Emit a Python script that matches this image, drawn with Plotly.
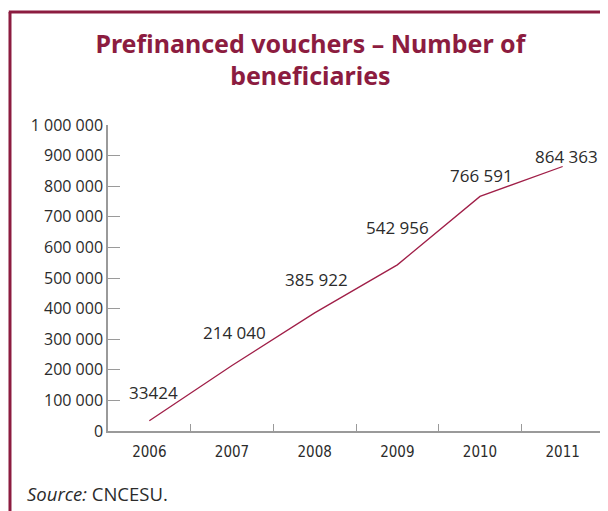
import plotly.graph_objects as go

years = ["2006", "2007", "2008", "2009", "2010", "2011"]
beneficiaries = [33424, 214040, 385922, 542956, 766591, 864363]
value_labels = ["33424", "214 040", "385 922", "542 956", "766 591", "864 363"]
y_tickvals = [0, 100000, 200000, 300000, 400000, 500000, 600000, 700000, 800000, 900000, 1000000]
y_ticktext = ["0", "100 000", "200 000", "300 000", "400 000", "500 000", "600 000",
              "700 000", "800 000", "900 000", "1 000 000"]

MAROON = "#8c1c40"
LINE = "#a01f48"
AXIS = "#9a9a9a"
TEXT = "#2b2b2b"

fig = go.Figure()
fig.add_trace(go.Scatter(x=years, y=beneficiaries, mode="lines",
                         line=dict(color=LINE, width=1.3), hoverinfo="skip"))

label_shifts = [28, 33, 33, 37, 21, 10]
label_xshifts = [4, 2, 2, 0, 1, 4]
for i, (v, t, s, xs) in enumerate(zip(beneficiaries, value_labels, label_shifts, label_xshifts)):
    fig.add_annotation(x=i, y=v, text=t, showarrow=False, yshift=s, xshift=xs,
                       font=dict(family="Open Sans, Noto Sans, sans-serif", size=17, color=TEXT))

fig.update_layout(
    width=600, height=503,
    margin=dict(l=100, r=4, t=117, b=80),
    paper_bgcolor="white", plot_bgcolor="white",
    showlegend=False,
    title=dict(text="<b>Prefinanced vouchers – Number of<br>beneficiaries</b>",
               x=0.504, xanchor="center", y=0.911, yanchor="middle",
               font=dict(family="Noto Sans, Open Sans, sans-serif", size=25, color=MAROON)),
)
fig.update_xaxes(type="category", showgrid=False, showline=True, linecolor=AXIS, linewidth=1.5,
                 ticks="inside", tickson="boundaries", ticklen=7, tickcolor=AXIS,
                 ticklabelstandoff=6,
                 tickfont=dict(family="DejaVu Sans Condensed, Liberation Sans Narrow, sans-serif", size=15, color=TEXT),
                 range=[-0.5, 5.5], fixedrange=True)
fig.update_yaxes(range=[0, 1000000], showgrid=False, showline=True, linecolor=AXIS, linewidth=1.5,
                 tickvals=y_tickvals, ticktext=y_ticktext, ticks="inside", ticklen=12, tickcolor=AXIS,
                 tickfont=dict(family="Open Sans, Noto Sans, sans-serif", size=16, color=TEXT),
                 zeroline=False, fixedrange=True)

# frame lines (left and top)
fig.add_shape(type="line", xref="paper", yref="paper", x0=-0.1976, x1=-0.1976, y0=1.369, y1=-0.3,
              line=dict(color=MAROON, width=3))
fig.add_shape(type="line", xref="paper", yref="paper", x0=-0.2, x1=1.05, y0=1.369, y1=1.369,
              line=dict(color=MAROON, width=3))

fig.add_annotation(xref="paper", yref="paper", x=(25 - 108) / 496, y=(431 - 493) / 306,
                   xanchor="left", yanchor="middle", showarrow=False,
                   text="<i>Source:</i> CNCESU.",
                   font=dict(family="Open Sans, Noto Sans, sans-serif", size=18.5, color=TEXT))

fig.write_html("out.html")
